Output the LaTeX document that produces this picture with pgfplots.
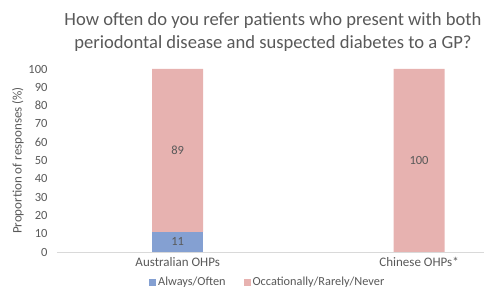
\documentclass[border=0pt]{standalone}
\usepackage{pgfplots}
\pgfplotsset{compat=1.18}
\usepackage{fontspec}
\setmainfont{Carlito}
\definecolor{txt}{RGB}{89,89,89}
\definecolor{cblue}{RGB}{132,160,210}
\definecolor{cpink}{RGB}{231,178,176}
\definecolor{axgray}{RGB}{217,217,217}
\begin{document}
\begin{tikzpicture}
\useasboundingbox (0,0) rectangle (484bp,300bp);
\node[font=\fontsize{18.6bp}{23bp}\selectfont, text=txt, align=center] at (273bp,268bp)
  {How often do you refer patients who present with both\\periodontal disease and suspected diabetes to a GP?};
\begin{axis}[
  at={(57bp,48bp)}, anchor=south west,
  scale only axis, width=427bp, height=183bp,
  xmin=-0.5, xmax=1.269, ymin=0, ymax=100,
  ybar stacked, bar width=51bp,
  axis x line*=bottom, axis y line*=left,
  x axis line style={-, draw=axgray, line width=0.8pt},
  y axis line style={draw=none},
  major tick length=0pt,
  xtick={0,1}, xticklabels={Australian OHPs, Chinese OHPs*},
  ytick={0,10,...,100},
  /pgf/number format/assume math mode=true,
  yticklabel style={font=\fontsize{12.5bp}{14bp}\selectfont, text=txt, xshift=-6bp},
  xticklabel style={font=\fontsize{13bp}{15bp}\selectfont, text=txt, yshift=-2bp},
  ylabel={Proportion of responses (\%)},
  ylabel style={font=\fontsize{13bp}{15bp}\selectfont, text=txt, yshift=-2bp},
  legend style={at={(0.4935,-0.165)}, anchor=center, draw=none, legend columns=2,
    font=\fontsize{12.3bp}{14bp}\selectfont, text=txt,
    /tikz/every even column/.append style={column sep=16bp}},
  legend image code/.code={\fill[#1] (0bp,-3.5bp) rectangle (7bp,3.5bp);},
]
\addplot[fill=cblue, draw=none] coordinates {(0,11) (1,0)};
\addplot[fill=cpink, draw=none] coordinates {(0,89) (1,100)};
\legend{Always/Often, Occationally/Rarely/Never}
\end{axis}
\begin{axis}[
  at={(57bp,48bp)}, anchor=south west,
  scale only axis, width=427bp, height=183bp,
  xmin=-0.5, xmax=1.269, ymin=0, ymax=100,
  hide axis,
  nodes near coords, point meta=explicit symbolic,
  every node near coord/.append style={anchor=center, font=\fontsize{12.5bp}{14bp}\selectfont, text=txt},
]
\addplot[draw=none, mark=none, only marks] coordinates {(0,5.5)[11] (0,55.5)[89] (1,50)[100]};
\end{axis}
\end{tikzpicture}
\end{document}
